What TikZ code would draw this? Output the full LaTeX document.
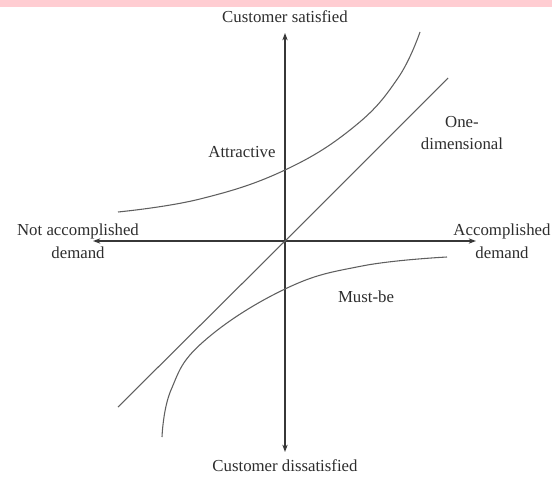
\documentclass[tikz,border=0pt]{standalone}
\usepackage{fontspec}
\setmainfont{Liberation Serif}
\usepackage{xcolor}
\usetikzlibrary{arrows.meta}

\definecolor{bandpink}{RGB}{255,205,210}
\definecolor{axisgray}{RGB}{55,55,55}
\definecolor{curvegray}{RGB}{95,95,95}
\definecolor{labelgray}{RGB}{45,45,45}

\tikzset{
  axisline/.style={color=axisgray, line width=1.3pt, -{Stealth[length=5.5pt,width=4pt]}},
  curveline/.style={color=curvegray, line width=0.8pt},
  lbl/.style={inner sep=0.75pt, text=labelgray, align=center, font=\fontsize{12.6}{17.2}\selectfont}
}

\begin{document}
\begin{tikzpicture}[x=0.75pt,y=0.75pt,yscale=-1,xscale=1]
\useasboundingbox (0,0) rectangle (552,478);

%Shape: Rectangle [band]
\fill [bandpink] (0,0) rectangle (552,7);

% axis ends
\coordinate (o) at (285,241);
\coordinate (top) at (285,33);
\coordinate (bottom) at (285,452);
\coordinate (left) at (93,241);
\coordinate (right) at (476,241);

%Straight Lines [vertical axis]
\draw [axisline] (o) -- (top);
\draw [axisline] (o) -- (bottom);
%Straight Lines [horizontal axis]
\draw [axisline] (o) -- (left);
\draw [axisline] (o) -- (right);

%Curve [attractive]
\draw [curveline] plot [smooth, tension=0.7] coordinates {(118,212) (200,199) (285,170) (355,126) (398,78) (420,32)};
%Straight Lines [one-dimensional]
\coordinate (oneA) at (118,407);
\coordinate (oneB) at (448,78);
\draw [curveline] (oneA) -- (o) -- (oneB);
%Curve [must-be]
\draw [curveline] plot [smooth, tension=0.7] coordinates {(162,437) (171,390) (203,342) (285,289) (362,266) (447,257)};

% Text Node
\node [lbl] (sat) at (285,17) {Customer satisfied};
% Text Node
\node [lbl] (dissat) at (285,466) {Customer dissatisfied};
% Text Node
\node [lbl] (notacc) at (78,241) {Not accomplished\\demand};
% Text Node
\node [lbl] (acc) at (502,241) {Accomplished\\demand};
% Text Node
\node [lbl] (attr) at (242,152) {Attractive};
% Text Node
\node [lbl] (onedim) at (462,133) {One-\\dimensional};
% Text Node
\node [lbl] (mustbe) at (366,297) {Must-be};

\end{tikzpicture}
\end{document}
